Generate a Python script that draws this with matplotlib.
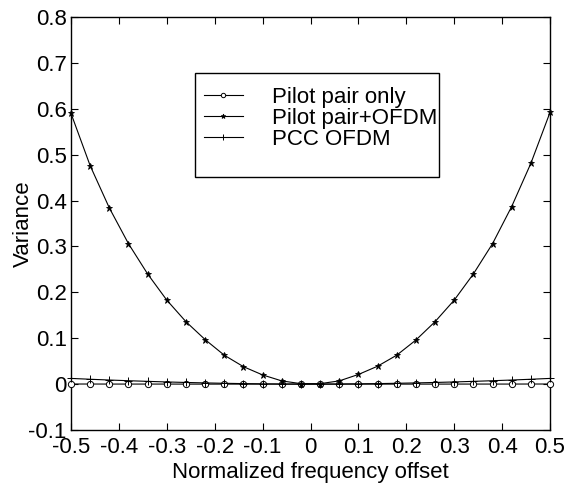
import matplotlib
matplotlib.use("Agg")
import matplotlib.pyplot as plt
from matplotlib.patches import Rectangle

x = [-0.50, -0.46, -0.42, -0.38, -0.34, -0.30, -0.26, -0.22, -0.18, -0.14, -0.10, -0.06, -0.02,
     0.02, 0.06, 0.10, 0.14, 0.18, 0.22, 0.26, 0.30, 0.34, 0.38, 0.42, 0.46, 0.50]

pilot_only = [0.0002, 0.0002, 0.0001, 0.0001, 0.0001, 0.0001, 0.0, 0.0, 0.0, 0.0, 0.0, 0.0, 0.0,
              0.0, 0.0, 0.0, 0.0, 0.0, 0.0, 0.0, 0.0001, 0.0001, 0.0001, 0.0001, 0.0002, 0.0002]

pilot_ofdm = [0.590, 0.476, 0.384, 0.306, 0.240, 0.183, 0.136, 0.097, 0.063, 0.038, 0.020, 0.007, 0.001,
              0.001, 0.007, 0.021, 0.039, 0.063, 0.096, 0.136, 0.183, 0.240, 0.306, 0.387, 0.481, 0.592]

pcc_ofdm = [0.0124, 0.0106, 0.0089, 0.0074, 0.0060, 0.0047, 0.0036, 0.0026, 0.0018, 0.0011, 0.0006, 0.0002, 0.0000,
            0.0000, 0.0002, 0.0006, 0.0011, 0.0018, 0.0026, 0.0036, 0.0047, 0.0060, 0.0074, 0.0089, 0.0106, 0.0124]

labels = ["Pilot pair only", "Pilot pair+OFDM", "PCC OFDM"]
xticks = [-0.5, -0.4, -0.3, -0.2, -0.1, 0, 0.1, 0.2, 0.3, 0.4, 0.5]
xticklabels = ["-0.5", "-0.4", "-0.3", "-0.2", "-0.1", "0", "0.1", "0.2", "0.3", "0.4", "0.5"]
yticks = [-0.1, 0, 0.1, 0.2, 0.3, 0.4, 0.5, 0.6, 0.7, 0.8]
yticklabels = ["-0.1", "0", "0.1", "0.2", "0.3", "0.4", "0.5", "0.6", "0.7", "0.8"]

plt.rcParams['font.family'] = ['Liberation Sans', 'DejaVu Sans']

fig = plt.figure(figsize=(5.68, 4.91), dpi=100)
ax = fig.add_axes([71/568, 1-430/491, 479/568, 413/491])

lw = 0.8
l1, = ax.plot(x, pilot_only, color='black', lw=lw, marker='o', ms=4.5, mfc='white', mec='black',
              mew=0.7, clip_on=False, zorder=3)
l2, = ax.plot(x, pilot_ofdm, color='black', lw=lw, marker='*', ms=5, mfc='black', mec='black',
              mew=0.6, clip_on=False, zorder=4)
l3, = ax.plot(x, pcc_ofdm, color='black', lw=lw, marker='+', ms=6, mec='black',
              mew=0.7, clip_on=False, zorder=5)

ax.set_xlim(-0.5, 0.5)
ax.set_ylim(-0.1, 0.8)
ax.set_xticks(xticks)
ax.set_xticklabels(xticklabels, fontsize=16)
ax.set_yticks(yticks)
ax.set_yticklabels(yticklabels, fontsize=16)
ax.tick_params(direction='in', length=5, width=0.8, top=True, right=True, pad=3)
ax.tick_params(axis='x', pad=5)
for s in ax.spines.values():
    s.set_linewidth(1.0)

ax.set_xlabel("Normalized frequency offset", fontsize=16, labelpad=3)
ax.set_ylabel("Variance", fontsize=16, labelpad=-4)

# legend box
ax.add_patch(Rectangle(((195-71)/479, (430-177)/413), (439-195)/479, (177-73)/413,
                       transform=ax.transAxes, fill=True, facecolor='white',
                       edgecolor='black', lw=1.0, zorder=6))
leg = ax.legend([l1, l2, l3], labels, loc='upper left',
                bbox_to_anchor=((204-71)/479, (430-87)/413),
                frameon=False, fontsize=16, handlelength=1.75, handletextpad=1.3,
                labelspacing=0.0, borderpad=0, borderaxespad=0, markerscale=0.7)
leg.set_zorder(7)

fig.savefig("out.png", dpi=100)
